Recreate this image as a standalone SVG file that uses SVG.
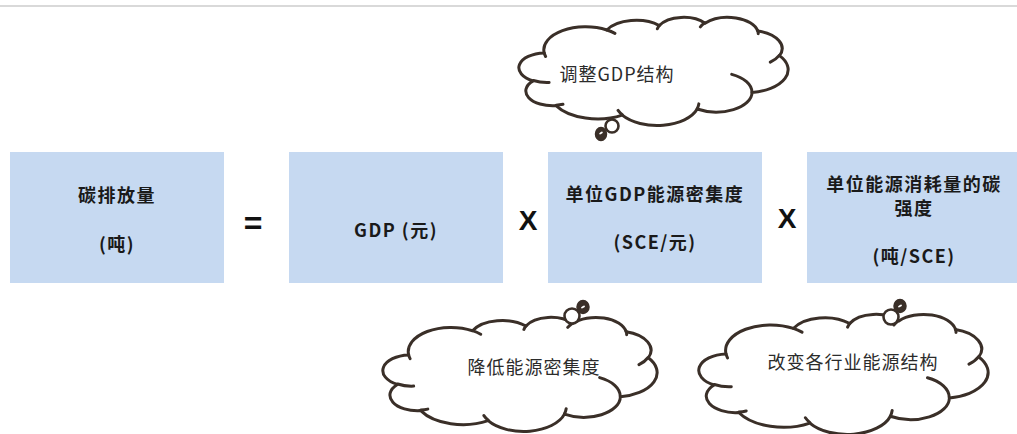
<svg xmlns="http://www.w3.org/2000/svg" xmlns:xlink="http://www.w3.org/1999/xlink" width="1017" height="434" viewBox="0 0 1017 434">
<style>
.box{fill:#c6d9f1}
.bt{font-family:"Noto Sans CJK SC","Noto Sans",sans-serif;font-weight:bold;font-size:18px;fill:#1a1a1a;text-anchor:middle;letter-spacing:1.5px}
.ct{font-family:"Noto Sans CJK SC","Noto Sans",sans-serif;font-size:18px;fill:#2b2b2b;text-anchor:middle;letter-spacing:1px}
.op{font-family:"Liberation Sans",Arial,sans-serif;font-weight:bold;fill:#111;text-anchor:middle}
.cl{fill:#fff;stroke:#3a2f28;stroke-width:3;vector-effect:non-scaling-stroke;stroke-linejoin:round}
.ci{fill:none;stroke:#3a2f28;stroke-width:3;vector-effect:non-scaling-stroke;stroke-linecap:round}
.bub{fill:#fff;stroke:#3a2f28;stroke-width:2.6}
.blob{fill:#3a2f28;stroke:#3a2f28;stroke-width:1.5}
.dot{fill:#fff}
</style>
<defs>
<g id="cloud">
<path class="cl" d="M3900 14370 A6753 9190 0 0 1 14005 5202 A5333 7267 0 0 1 22456 3432 A4365 5945 0 0 1 29833 2481 A4857 6595 0 0 1 38318 5576 A5333 7273 0 0 1 41819 15460 A6775 9220 0 0 1 37405 30203 A5785 7867 0 0 1 28557 36813 A6752 9215 0 0 1 16481 39264 A7720 10543 0 0 1 5805 35470 A4360 5918 0 0 1 2114 25548 A4345 5945 0 0 1 3900 14370 Z"/>
<path class="ci" d="M4693 26177 A4345 5945 0 0 1 2160 25380 M6928 34899 A4360 5918 0 0 1 5820 35281 M16478 39090 A6752 9215 0 0 1 15810 37350 M28827 34751 A6752 9215 0 0 1 28560 36660 M34129 22954 A5785 7867 0 0 1 37380 30090 M41798 15354 A5333 7273 0 0 1 40350 18030 M38324 5426 A4857 6595 0 0 1 38401 6690 M29078 3952 A4857 6595 0 0 1 29820 2341 M22141 4720 A4365 5945 0 0 1 22500 3330 M14000 5192 A6753 9190 0 0 1 15300 6540 M4127 15789 A6753 9190 0 0 1 3900 14370"/>
</g>
</defs>
<rect x="0" y="0" width="1017" height="434" fill="#fff"/>
<line x1="0" y1="6" x2="1017" y2="6" stroke="#d9d9d9" stroke-width="2"/>

<g id="connectors">
<text class="op" x="253" y="234" font-size="32">=</text>
<text class="op" x="528" y="230" font-size="28">X</text>
<text class="op" x="787" y="228" font-size="28">X</text>
</g>

<g id="node-carbon">
<rect class="box" x="10" y="152" width="214" height="131"/>
<text class="bt" x="117" y="202">碳排放量</text>
<text class="bt" x="117" y="251">(吨)</text>
</g>
<g id="node-gdp">
<rect class="box" x="289" y="152" width="214" height="131"/>
<text class="bt" x="396" y="237">GDP (元)</text>
</g>
<g id="node-energy-intensity">
<rect class="box" x="548" y="152" width="214" height="131"/>
<text class="bt" x="655" y="201">单位GDP能源密集度</text>
<text class="bt" x="655" y="249">(SCE/元)</text>
</g>
<g id="node-carbon-intensity">
<rect class="box" x="807" y="152" width="214" height="131"/>
<text class="bt" x="914" y="191">单位能源消耗量的碳</text>
<text class="bt" x="914" y="215">强度</text>
<text class="bt" x="914" y="263">(吨/SCE)</text>
</g>

<g id="cloud-gdp-structure">
<use xlink:href="#cloud" transform="translate(520,17) scale(0.0062037,0.0025)"/>
<circle class="bub" cx="612" cy="126" r="6.5"/>
<ellipse class="blob" cx="601" cy="134" rx="5.5" ry="6.5"/>
<ellipse class="dot" cx="601" cy="133" rx="2" ry="1" transform="rotate(-30 601 133)"/>
<text class="ct" x="617" y="81" fill="#3a3a48">调整GDP结构</text>
</g>
<g id="cloud-lower-intensity">
<use xlink:href="#cloud" transform="translate(384,317) scale(0.0063194,0.0026389)"/>
<circle class="bub" cx="572" cy="316" r="7.5"/>
<ellipse class="blob" cx="583" cy="307" rx="6" ry="6.5"/>
<ellipse class="dot" cx="583" cy="307" rx="2.2" ry="1" transform="rotate(-30 583 307)"/>
<text class="ct" x="534" y="374">降低能源密集度</text>
</g>
<g id="cloud-energy-structure">
<use xlink:href="#cloud" transform="translate(700,314) scale(0.0066667,0.0027778)"/>
<circle class="bub" cx="891" cy="317" r="7.5"/>
<ellipse class="blob" cx="900" cy="306" rx="6" ry="6.5"/>
<ellipse class="dot" cx="900" cy="306" rx="2.2" ry="1" transform="rotate(-30 900 306)"/>
<text class="ct" x="853" y="369">改变各行业能源结构</text>
</g>
</svg>
